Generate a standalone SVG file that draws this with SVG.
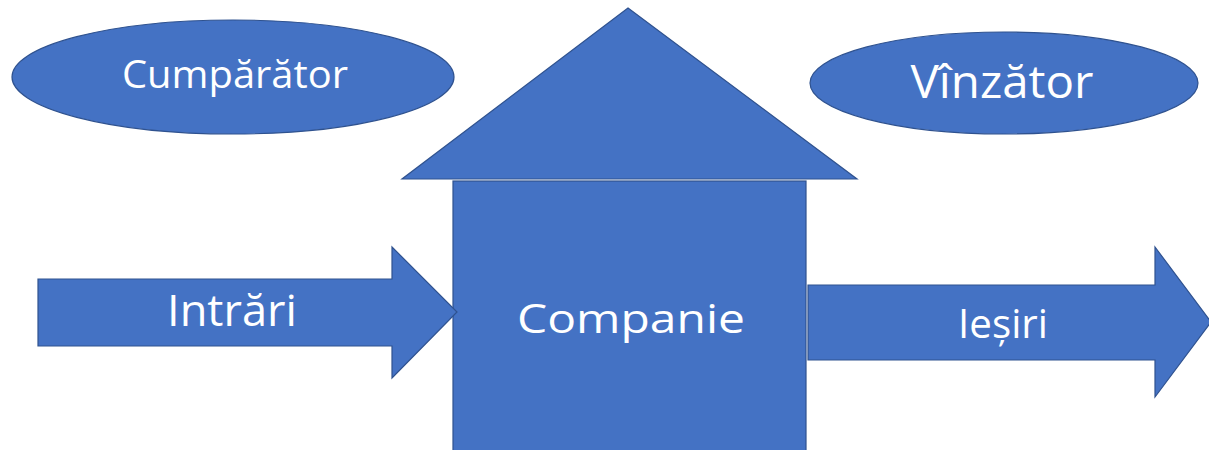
<svg xmlns="http://www.w3.org/2000/svg" width="1209" height="450" viewBox="0 0 1209 450">
  <style>
    .shape { fill: #4472C4; stroke: #2F528F; stroke-width: 1.2; }
    .lbl { fill: #FFFFFF; font-family: "Open Sans", "Noto Sans", sans-serif; text-anchor: middle; }
  </style>
  <rect x="0" y="0" width="1209" height="450" fill="#FFFFFF"/>
  <g id="cumparator">
    <ellipse class="shape" cx="233" cy="77" rx="221" ry="57"/>
    <text class="lbl" x="235" y="88" font-size="39" textLength="226" lengthAdjust="spacingAndGlyphs">Cumpărător</text>
  </g>
  <g id="vinzator">
    <ellipse class="shape" cx="1004" cy="83" rx="194" ry="51"/>
    <text class="lbl" x="1002" y="98" font-size="45" textLength="183" lengthAdjust="spacingAndGlyphs">Vînzător</text>
  </g>
  <g id="companie">
    <polygon class="shape" points="628,8 857,179 402,179"/>
    <rect class="shape" x="453" y="181" width="353" height="275"/>
    <text class="lbl" x="631" y="333" font-size="41" textLength="228" lengthAdjust="spacingAndGlyphs">Companie</text>
  </g>
  <g id="connectors">
    <g id="intrari">
      <polygon class="shape" points="38,279 392,279 392,247 457,312 392,378 392,346 38,346"/>
      <text class="lbl" x="232" y="326" font-size="43" textLength="130" lengthAdjust="spacingAndGlyphs">Intrări</text>
    </g>
    <g id="iesiri">
      <polygon class="shape" points="808,285 1155,285 1155,247 1211,322 1155,397 1155,360 808,360"/>
      <text class="lbl" x="1003" y="338" font-size="41" textLength="90" lengthAdjust="spacingAndGlyphs">Ieșiri</text>
    </g>
  </g>
</svg>
